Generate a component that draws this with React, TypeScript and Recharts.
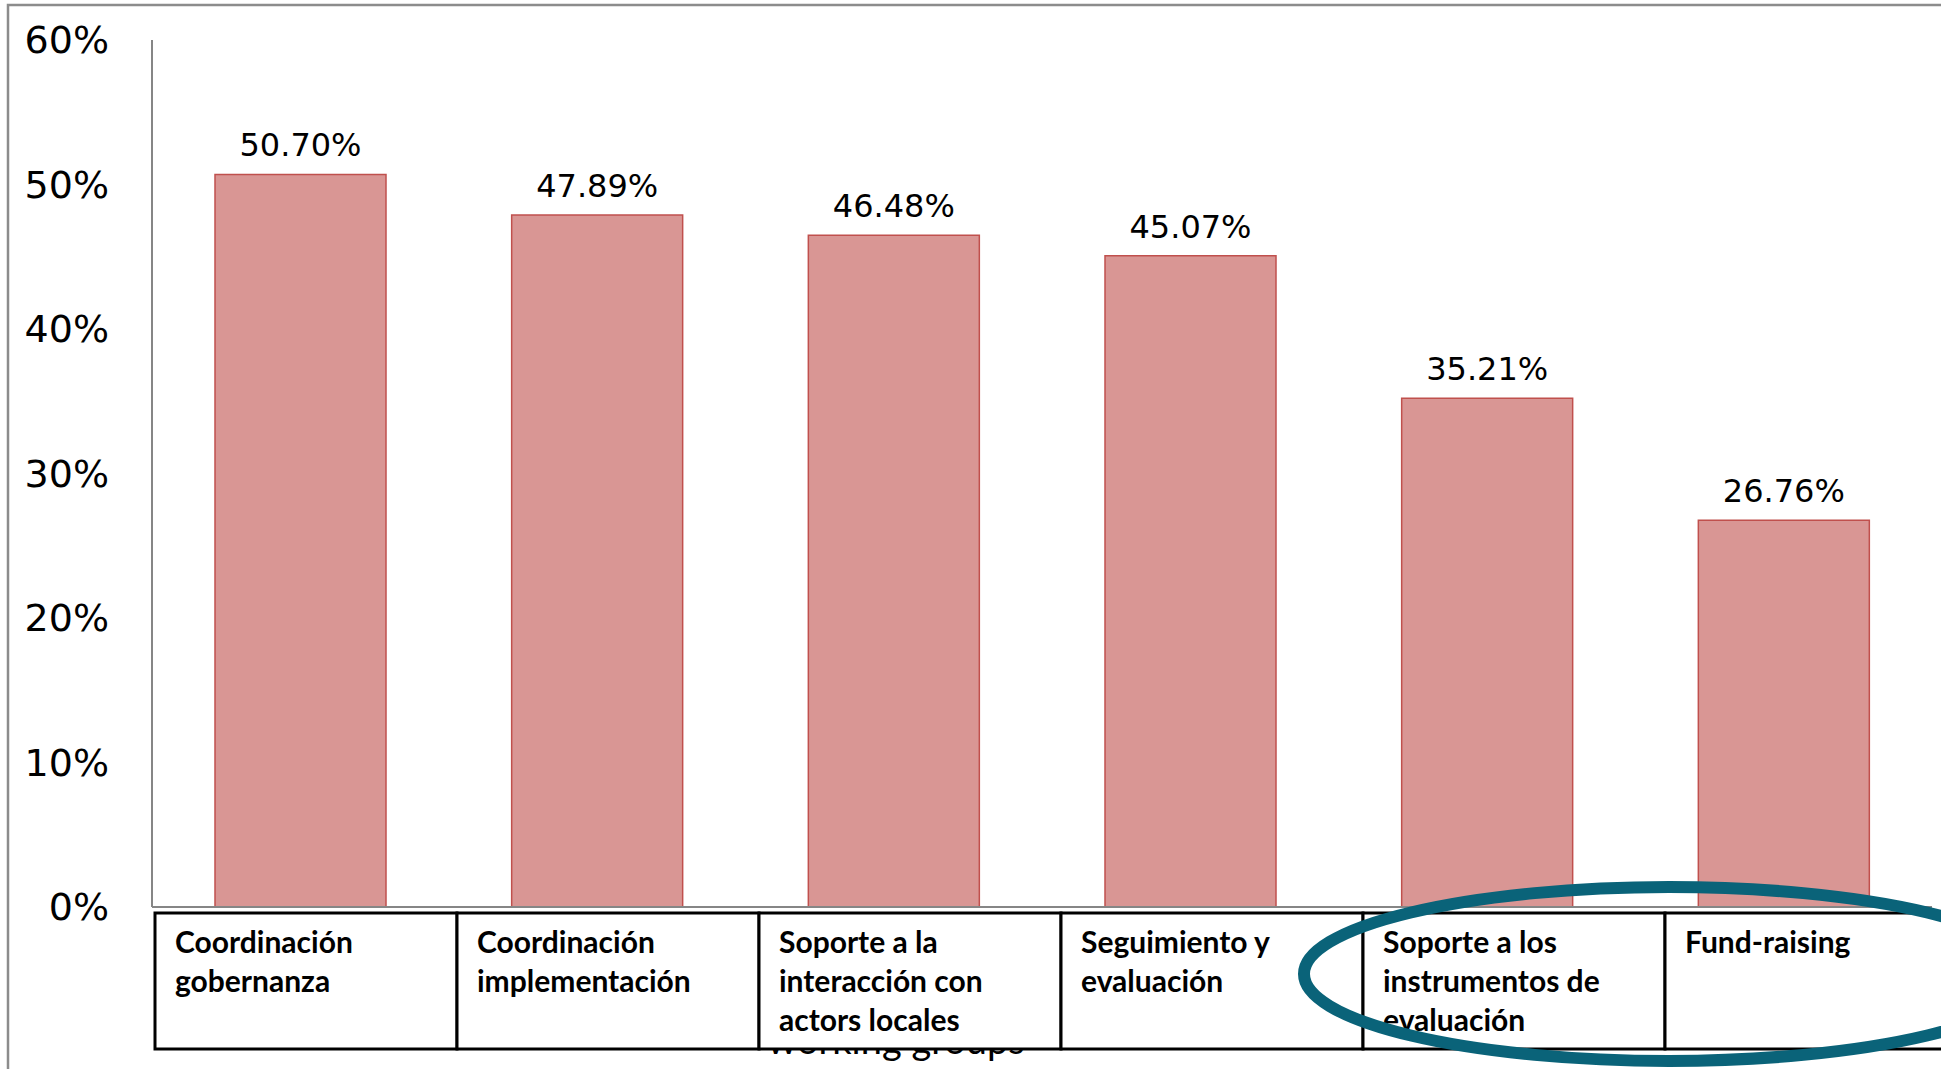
import { Bar, BarChart, LabelList, XAxis, YAxis } from "recharts";

const categories = [
  "Coordinación\ngobernanza",
  "Coordinación\nimplementación",
  "Soporte a la\ninteracción con\nactors locales",
  "Seguimiento y\nevaluación",
  "Soporte a los\ninstrumentos de\nevaluación",
  "Fund-raising",
];

const shares = [0.507, 0.4789, 0.4648, 0.4507, 0.3521, 0.2676];

const yTicks = [0, 0.1, 0.2, 0.3, 0.4, 0.5, 0.6];

const xTitle = "working groups";

const W = 1941;
const H = 1069;

// label table under the axis (columns are a bit wider than the bar bands)
const TABLE_LEFT = 155;
const TABLE_TOP = 913;
const CELL_W = 302;
const CELL_H = 136;

const chartData = categories.map((name, i) => ({ name, value: shares[i] }));

function pct(v: number, digits = 0) {
  return `${(v * 100).toFixed(digits)}%`;
}

function TableCell(props: any) {
  const { index, payload } = props;
  const left = TABLE_LEFT + index * CELL_W;
  const lines = String(payload.value).split("\n");
  return (
    <g>
      <rect
        x={left}
        y={TABLE_TOP}
        width={CELL_W}
        height={CELL_H}
        fill="#fff"
        stroke="#000"
        strokeWidth={3}
      />
      <text
        fontFamily="Lato, 'Open Sans', sans-serif"
        fontWeight={700}
        fontSize={30}
        fill="#000"
      >
        {lines.map((line, i) => (
          <tspan key={i} x={left + 20} y={953 + i * 39}>
            {line}
          </tspan>
        ))}
      </text>
    </g>
  );
}

export default function App() {
  return (
    <div
      style={{
        position: "relative",
        width: W,
        height: H,
        overflow: "hidden",
        background: "#fff",
      }}
    >
      <style>{`body{margin:0}`}</style>

      {/* axis title sits behind the label table */}
      <svg
        width={W}
        height={H}
        style={{ position: "absolute", left: 0, top: 0 }}
      >
        <text
          x={896}
          y={1054}
          textAnchor="middle"
          fontFamily="Lato, sans-serif"
          fontSize={38}
          fill="#000"
        >
          {xTitle}
        </text>
      </svg>

      <div style={{ position: "absolute", left: 0, top: 0 }}>
        <BarChart
          width={W}
          height={H}
          data={chartData}
          margin={{ top: 40, right: 9, left: 0, bottom: 12 }}
        >
          <YAxis
            width={152}
            domain={[0, 0.6]}
            ticks={yTicks}
            tickFormatter={(v: number) => pct(v)}
            tickLine={false}
            tickSize={0}
            tickMargin={43}
            axisLine={{ stroke: "#868686", strokeWidth: 2 }}
            tick={{
              fontSize: 38,
              fill: "#000",
              fontFamily: "'DejaVu Sans', sans-serif",
            }}
          />
          <XAxis
            dataKey="name"
            height={150}
            interval={0}
            tickLine={false}
            axisLine={{ stroke: "#868686", strokeWidth: 2 }}
            tick={(p: any) => <TableCell {...p} />}
          />
          <Bar
            dataKey="value"
            barSize={171}
            fill="#d99694"
            stroke="#c0504d"
            strokeWidth={1.5}
            isAnimationActive={false}
          >
            <LabelList
              dataKey="value"
              position="top"
              offset={18}
              formatter={(v: any) => pct(Number(v), 2)}
              fill="#000"
              fontSize={32}
              fontFamily="'DejaVu Sans', sans-serif"
            />
          </Bar>
        </BarChart>
      </div>

      {/* frame and highlight ellipse on top */}
      <svg
        width={W}
        height={H}
        style={{ position: "absolute", left: 0, top: 0, pointerEvents: "none" }}
      >
        <rect
          x={8}
          y={5}
          width={3000}
          height={3000}
          fill="none"
          stroke="#8c8c8c"
          strokeWidth={2.5}
        />
        <ellipse
          cx={1669}
          cy={974}
          rx={365}
          ry={87}
          fill="none"
          stroke="#0a6379"
          strokeWidth={12}
        />
      </svg>
    </div>
  );
}
